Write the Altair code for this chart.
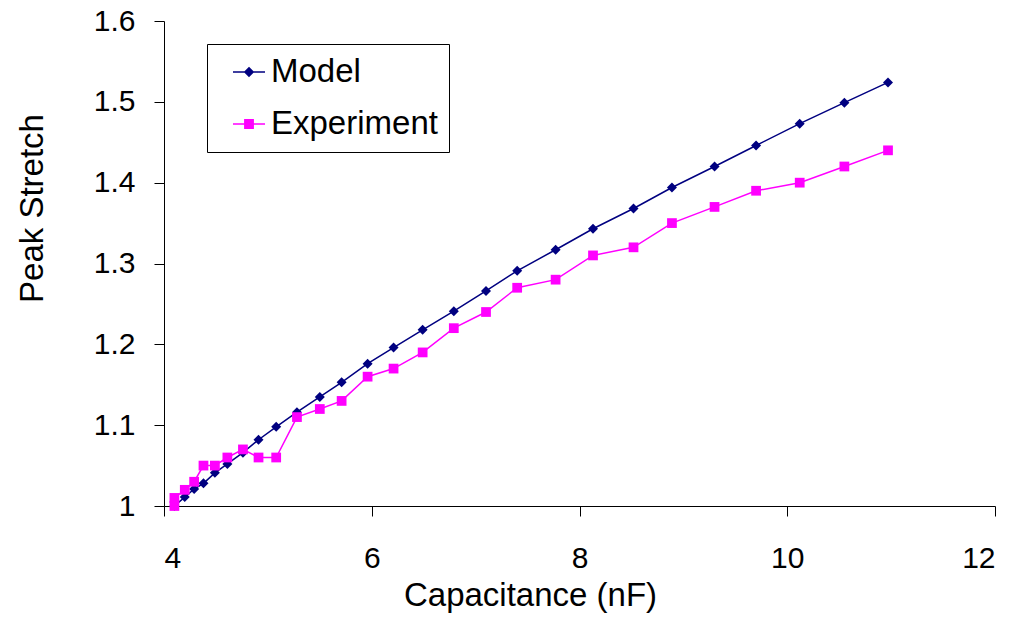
import altair as alt
import pandas as pd

# Capacitance (nF) and peak stretch for the model curve
capacitance_model = [4.10, 4.20, 4.29, 4.38, 4.49, 4.61, 4.76, 4.91, 5.08, 5.28,
                     5.50, 5.71, 5.96, 6.21, 6.49, 6.79, 7.10, 7.40, 7.77, 8.13,
                     8.52, 8.89, 9.30, 9.70, 10.12, 10.55, 10.97]
stretch_model = [1.000, 1.011, 1.021, 1.028, 1.041, 1.052, 1.066, 1.082, 1.098, 1.116,
                 1.135, 1.153, 1.176, 1.196, 1.218, 1.241, 1.266, 1.291, 1.317, 1.343,
                 1.368, 1.394, 1.420, 1.446, 1.473, 1.499, 1.524]

# Measured peak stretch
capacitance_exp = [4.10, 4.10, 4.20, 4.29, 4.38, 4.49, 4.61, 4.76, 4.91, 5.08,
                   5.28, 5.50, 5.71, 5.96, 6.21, 6.49, 6.79, 7.10, 7.40, 7.77,
                   8.13, 8.52, 8.89, 9.30, 9.70, 10.12, 10.55, 10.97]
stretch_exp = [1.00, 1.01, 1.02, 1.03, 1.05, 1.05, 1.06, 1.07, 1.06, 1.06,
               1.11, 1.12, 1.13, 1.16, 1.17, 1.19, 1.22, 1.24, 1.27, 1.28,
               1.31, 1.32, 1.35, 1.37, 1.39, 1.40, 1.42, 1.44]

series_names = ["Model", "Experiment"]
series_colors = ["#000080", "#FF00FF"]
x_ticks = [4, 6, 8, 10, 12]
y_ticks = [1.0, 1.1, 1.2, 1.3, 1.4, 1.5, 1.6]

FONT = "Liberation Sans"

model_df = pd.DataFrame({"cap": capacitance_model, "stretch": stretch_model,
                         "idx": list(range(len(capacitance_model)))})
exp_df = pd.DataFrame({"cap": capacitance_exp, "stretch": stretch_exp,
                       "idx": list(range(len(capacitance_exp)))})

x_enc = alt.X(
    "cap:Q",
    scale=alt.Scale(domain=[4, 12], nice=False, zero=False),
    axis=alt.Axis(values=x_ticks, format="~g", title="Capacitance (nF)",
                  labelBaseline="alphabetic", labelPadding=51,
                  titleX=366, titleY=99, titleAlign="center",
                  titleBaseline="alphabetic"),
)
y_enc = alt.Y(
    "stretch:Q",
    scale=alt.Scale(domain=[1, 1.6], nice=False, zero=False),
    axis=alt.Axis(values=y_ticks, format="~g", title="Peak Stretch",
                  labelPadding=19, titleX=-122, titleY=187,
                  titleAlign="center", titleBaseline="alphabetic"),
)

model_layer = alt.Chart(model_df).mark_line(
    color=series_colors[0], strokeWidth=1.5,
    point=alt.OverlayMarkDef(shape="diamond", filled=True, size=100, opacity=1,
                             color=series_colors[0]),
).encode(x=x_enc, y=y_enc, order="idx:Q")

exp_layer = alt.Chart(exp_df).mark_line(
    color=series_colors[1], strokeWidth=1.5,
    point=alt.OverlayMarkDef(shape="square", filled=True, size=95, opacity=1,
                             color=series_colors[1]),
).encode(x="cap:Q", y="stretch:Q", order="idx:Q")

# Legend symbols: a short line with the series marker in the middle
legend_paths = [
    "M-1,0L1,0M0,-0.26L0.26,0L0,0.26L-0.26,0Z",
    "M-1,0L1,0M-0.26,-0.26L0.26,-0.26L0.26,0.26L-0.26,0.26Z",
]
legend_cfg = alt.Legend(
    title=None, orient="none", legendX=43, legendY=23,
    strokeColor="black", fillColor="white", padding=11,
    symbolSize=1024, symbolStrokeWidth=1.5, symbolOffset=14,
    labelOffset=5, rowPadding=18, labelLimit=400,
    labelFont=FONT, labelFontSize=33, labelColor="black",
)
legend_df = pd.DataFrame({"series": series_names})
legend_layer = alt.Chart(legend_df).transform_filter("false").mark_point(
    filled=True, opacity=1
).encode(
    fill=alt.Fill("series:N", scale=alt.Scale(domain=series_names, range=series_colors),
                  legend=legend_cfg),
    stroke=alt.Stroke("series:N", scale=alt.Scale(domain=series_names, range=series_colors),
                      legend=legend_cfg),
    shape=alt.Shape("series:N", scale=alt.Scale(domain=series_names, range=legend_paths),
                    legend=legend_cfg),
)

chart = alt.layer(model_layer, exp_layer, legend_layer).properties(
    width=831,
    height=485,
    autosize=alt.AutoSizeParams(type="none"),
    padding={"left": 164, "top": 21, "right": 26, "bottom": 124},
).configure_view(
    stroke=None
).configure_axis(
    grid=False,
    domainColor="black", domainWidth=1,
    tickColor="black", tickWidth=1, tickSize=10,
    labelFont=FONT, labelFontSize=30, labelColor="black",
    titleFont=FONT, titleFontSize=33, titleFontWeight="normal", titleColor="black",
)

chart.save("out.html", embed_options={"renderer": "svg", "actions": False})
